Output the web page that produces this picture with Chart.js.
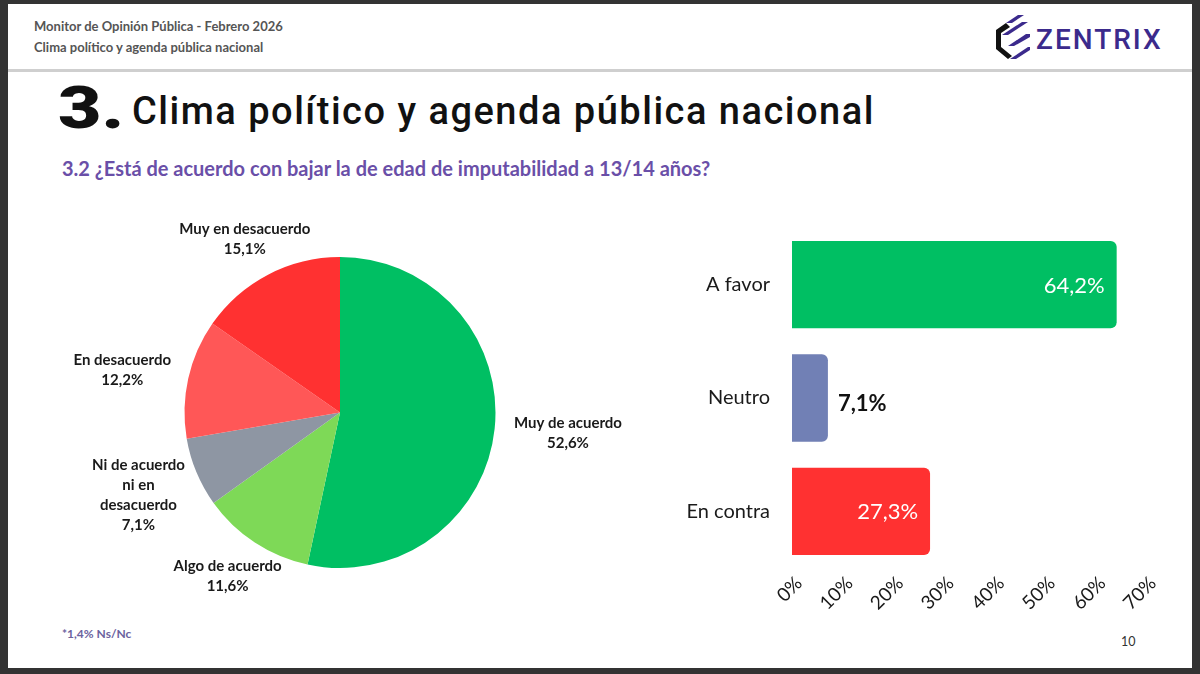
<!DOCTYPE html>
<html>
<head>
<meta charset="utf-8">
<script src="https://cdn.jsdelivr.net/npm/chart.js@4"></script>
<style>
  html, body { margin:0; padding:0; }
  body { width:1200px; height:674px; background:#333333; position:relative; overflow:hidden; font-family:Lato, "Noto Sans", sans-serif; }
  #slide { position:absolute; left:8px; top:4px; width:1184px; height:664px; background:#ffffff; }
  .abs { position:absolute; white-space:nowrap; }
  #h1 { left:34px; top:18px; font-size:13px; font-weight:700; color:#555555; }
  #h2 { left:34px; top:39px; font-size:13px; font-weight:700; color:#555555; }
  #sep { left:8px; top:69px; width:1184px; height:3px; background:#cfcfcf; }
  #t3 { left:58px; top:76px; font-family:Roboto, sans-serif; font-weight:900; font-size:60px; color:#111; line-height:64px; transform:scaleX(1.25); transform-origin:left top; }
  #ttl { left:132px; top:89px; font-family:Roboto, sans-serif; font-weight:500; font-size:38px; color:#111; line-height:44px; letter-spacing:1.5px; }
  #sub { left:62px; top:156px; font-size:20px; font-weight:700; color:#6a4fa8; }
  #foot { left:62px; top:626px; font-size:12px; font-weight:700; color:#6b62a0; }
  #pg { left:1121px; top:634px; font-size:12.5px; color:#333; }
  #logoTxt { left:1036px; top:24px; font-family:Roboto, sans-serif; font-weight:500; font-size:28px; color:#3b2a8c; letter-spacing:2px; line-height:32px; }
  #logoIco { left:992px; top:13px; }
  canvas { position:absolute; }
  #pie { left:40px; top:200px; }
  #bar { left:660px; top:202px; }
</style>
</head>
<body>
<div id="slide"></div>
<div class="abs" id="h1">Monitor de Opinión Pública - Febrero 2026</div>
<div class="abs" id="h2">Clima político y agenda pública nacional</div>
<div class="abs" id="sep"></div>
<svg class="abs" id="logoIco" width="40" height="52" viewBox="0 0 40 52">
  <polygon points="14,10 26,2 32,2 20,10" fill="#3b2a8c"/>
  <polygon points="10,22 30,9 36,9 16,22" fill="#3b2a8c"/>
  <polygon points="16,33 34,21 38,21 38,24 22,33" fill="#3b2a8c"/>
  <polygon points="18,46 36,34 38,34 38,37 24,46" fill="#3b2a8c"/>
  <path d="M14,10 L4,17 L4,36 L16,46 L20,43 L9,34 L9,20 L18,14 Z" fill="#111"/>
</svg>
<div class="abs" id="logoTxt">ZENTRIX</div>
<div class="abs" id="t3">3.</div>
<div class="abs" id="ttl">Clima político y agenda pública nacional</div>
<div class="abs" id="sub">3.2 ¿Está de acuerdo con bajar la de edad de imputabilidad a 13/14 años?</div>
<div class="abs" id="foot">*1,4% Ns/Nc</div>
<div class="abs" id="pg">10</div>

<canvas id="pie" width="600" height="420"></canvas>
<canvas id="bar" width="520" height="418"></canvas>

<script>
// ---- Data ----
const pieCategories = [
  ["Muy de acuerdo"],
  ["Algo de acuerdo"],
  ["Ni de acuerdo", "ni en", "desacuerdo"],
  ["En desacuerdo"],
  ["Muy en desacuerdo"]
];
const pieValues = [52.6, 11.6, 7.1, 12.2, 15.1];
const pieColors = ["#00bf63", "#7ed957", "#8e96a3", "#ff5757", "#ff3131"];

const barCategories = ["A favor", "Neutro", "En contra"];
const barValues = [64.2, 7.1, 27.3];
const barColors = ["#00bf63", "#7180b5", "#ff3131"];
const xTickMax = 70;
const xTickStep = 10;

const fmt = v => v.toFixed(1).replace('.', ',') + '%';

// ---- Pie label plugin ----
const pieLabels = {
  id: 'pieLabels',
  afterDraw(chart) {
    const ctx = chart.ctx;
    const meta = chart.getDatasetMeta(0);
    const lh = 20, gap = 20;
    ctx.save();
    ctx.font = '700 15px Lato, sans-serif';
    ctx.fillStyle = '#1a1a1a';
    ctx.textAlign = 'center';
    ctx.textBaseline = 'middle';
    meta.data.forEach((arc, i) => {
      const p = arc.getProps(['x', 'y', 'startAngle', 'endAngle', 'outerRadius'], true);
      const mid = (p.startAngle + p.endAngle) / 2;
      const ux = Math.cos(mid), uy = Math.sin(mid);
      const lines = pieCategories[i].concat([fmt(pieValues[i])]);
      const w = Math.max(...lines.map(l => ctx.measureText(l).width));
      const h = lines.length * lh;
      const px = p.x + (p.outerRadius + gap) * ux;
      const py = p.y + (p.outerRadius + gap) * uy;
      const cx = px + ux * Math.abs(ux) * w / 2;
      const cy = py + uy * h / 2;
      lines.forEach((l, k) => {
        ctx.fillText(l, cx, cy - h / 2 + lh / 2 + k * lh);
      });
    });
    ctx.restore();
  }
};

new Chart(document.getElementById('pie'), {
  type: 'pie',
  data: {
    labels: pieCategories.map(c => c.join(' ')),
    datasets: [{ data: pieValues, backgroundColor: pieColors, borderWidth: 0 }]
  },
  options: {
    responsive: false,
    animation: false,
    layout: { padding: { top: 57, bottom: 52, left: 0, right: 0 } },
    plugins: { legend: { display: false }, tooltip: { enabled: false } }
  },
  plugins: [pieLabels]
});

// ---- Bar value plugin ----
const barValueLabels = {
  id: 'barValueLabels',
  afterDatasetsDraw(chart) {
    const ctx = chart.ctx;
    const meta = chart.getDatasetMeta(0);
    ctx.save();
    ctx.textBaseline = 'middle';
    meta.data.forEach((bar, i) => {
      const p = bar.getProps(['x', 'y', 'base'], true);
      const v = barValues[i];
      if (p.x - p.base > 70) {
        ctx.font = '400 22px Lato, sans-serif';
        ctx.fillStyle = '#ffffff';
        ctx.textAlign = 'right';
        ctx.fillText(fmt(v), p.x - 12, p.y + 1);
      } else {
        ctx.font = '700 22px Lato, sans-serif';
        ctx.fillStyle = '#111111';
        ctx.textAlign = 'left';
        ctx.fillText(fmt(v), p.x + 10, p.y + 6);
      }
    });
    ctx.restore();
  }
};

new Chart(document.getElementById('bar'), {
  type: 'bar',
  data: {
    labels: barCategories,
    datasets: [{ data: barValues, backgroundColor: barColors, borderWidth: 0, borderRadius: 6, borderSkipped: 'start', barPercentage: 0.77, categoryPercentage: 1 }]
  },
  options: {
    indexAxis: 'y',
    responsive: false,
    animation: false,
    layout: { padding: { top: 7, right: 34, bottom: 0, left: 0 } },
    plugins: { legend: { display: false }, tooltip: { enabled: false } },
    scales: {
      x: {
        min: 0, max: xTickMax,
        grid: { display: false }, border: { display: false },
        ticks: { stepSize: xTickStep, callback: v => v + '%', color: '#1a1a1a', font: { family: 'Lato', size: 19 }, minRotation: 45, maxRotation: 45, padding: -4, labelOffset: 7 },
        afterFit(scale) { scale.height = 52; }
      },
      y: {
        grid: { display: false }, border: { display: false },
        ticks: { color: '#1a1a1a', font: { family: 'Lato', size: 20 }, padding: 14 },
        afterFit(scale) { scale.width = 132; }
      }
    }
  },
  plugins: [barValueLabels]
});
</script>
</body>
</html>
